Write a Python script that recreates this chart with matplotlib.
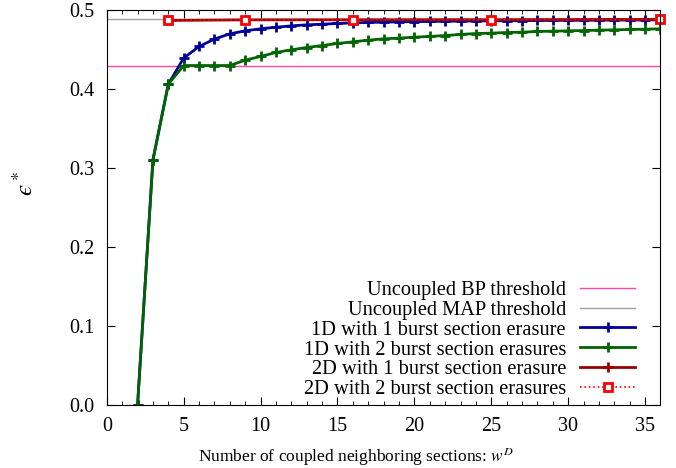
import matplotlib
matplotlib.use('Agg')
import matplotlib.pyplot as plt
from matplotlib.ticker import MultipleLocator, FormatStrFormatter

# thresholds of the uncoupled ensemble
bp_thr = 0.4294
map_thr = 0.4881

# 1D coupling, w = 2..36
w1d = list(range(2, 37))
one_burst_1d = [0.0, 0.310, 0.406, 0.439, 0.4536, 0.463, 0.4696, 0.4734, 0.476, 0.478,
                0.4797, 0.481, 0.4818, 0.4827, 0.4835, 0.484, 0.4844, 0.4848, 0.4851,
                0.4853, 0.4855, 0.4857, 0.4859, 0.4861, 0.4862, 0.4863, 0.4865, 0.4866,
                0.4867, 0.4868, 0.4869, 0.487, 0.4871, 0.4872, 0.4873]
two_burst_1d = [0.0, 0.310, 0.406, 0.4295, 0.4295, 0.4295, 0.4295, 0.4363, 0.441, 0.446,
                0.4494, 0.4523, 0.4548, 0.4574, 0.4595, 0.4616, 0.4633, 0.4642, 0.4654,
                0.4663, 0.4675, 0.4688, 0.470, 0.4705, 0.4713, 0.4717, 0.4726, 0.473,
                0.4734, 0.4738, 0.4743, 0.4747, 0.4751, 0.4755, 0.476]

# 2D coupling, w^D = 4, 9, 16, 25, 36
w2d = [4, 9, 16, 25, 36]
one_burst_2d = [0.4866, 0.4873, 0.4874, 0.4875, 0.4879]
two_burst_2d = [0.4866, 0.4873, 0.4874, 0.4875, 0.4879]

plt.rcParams['font.family'] = ['Liberation Serif', 'DejaVu Serif']
plt.rcParams['mathtext.fontset'] = 'stix'
plt.rcParams['font.size'] = 14.5

fig = plt.figure(figsize=(6.76, 4.68), dpi=100)
ax = fig.add_axes([0.158, 0.135, 0.819, 0.844])

ax.axhline(bp_thr, color='#ff44aa', lw=1.0, label='Uncoupled BP threshold')
ax.axhline(map_thr, color='#a0a0a0', lw=1.0, label='Uncoupled MAP threshold')
ax.plot(w1d, one_burst_1d, color='#000099', lw=2, marker='+', ms=7, mew=2,
        label='1D with 1 burst section erasure')
ax.plot(w1d, two_burst_1d, color='#006400', lw=2, marker='+', ms=7, mew=2,
        label='1D with 2 burst section erasures')
ax.plot(w2d, one_burst_2d, color='#990000', lw=2, marker='+', ms=7, mew=2,
        label='2D with 1 burst section erasure')
ax.plot(w2d, two_burst_2d, color='#ff0000', lw=1.2, ls=':', marker='s', ms=5.5, mew=2,
        mfc='white', mec='#ff0000', label='2D with 2 burst section erasures', clip_on=False)

ax.set_xlim(0, 36)
ax.set_ylim(0, 0.5)
ax.xaxis.set_major_locator(MultipleLocator(5))
ax.xaxis.set_minor_locator(MultipleLocator(1))
ax.yaxis.set_major_locator(MultipleLocator(0.1))
ax.yaxis.set_major_formatter(FormatStrFormatter('%.1f'))
ax.tick_params(which='both', direction='in', top=True, right=True)
ax.tick_params(which='major', length=6)
ax.tick_params(which='minor', length=3)
ax.tick_params(axis='y', pad=9)
ax.tick_params(axis='x', pad=9)

ax.set_xlabel('Number of coupled neighboring sections: $w^D$', fontsize=12.5)
ax.xaxis.set_label_coords(0.45, -0.102)
ax.set_ylabel('$\u03f5^*$', fontsize=18)
ax.yaxis.set_label_coords(-0.125, 0.56)

ax.legend(loc='lower right', bbox_to_anchor=(0.973, -0.012), frameon=False, markerfirst=False,
          handlelength=2.7, labelspacing=0.03, borderpad=0.0, handletextpad=0.7,
          fontsize=14.7)

fig.savefig('out.png', dpi=100)
